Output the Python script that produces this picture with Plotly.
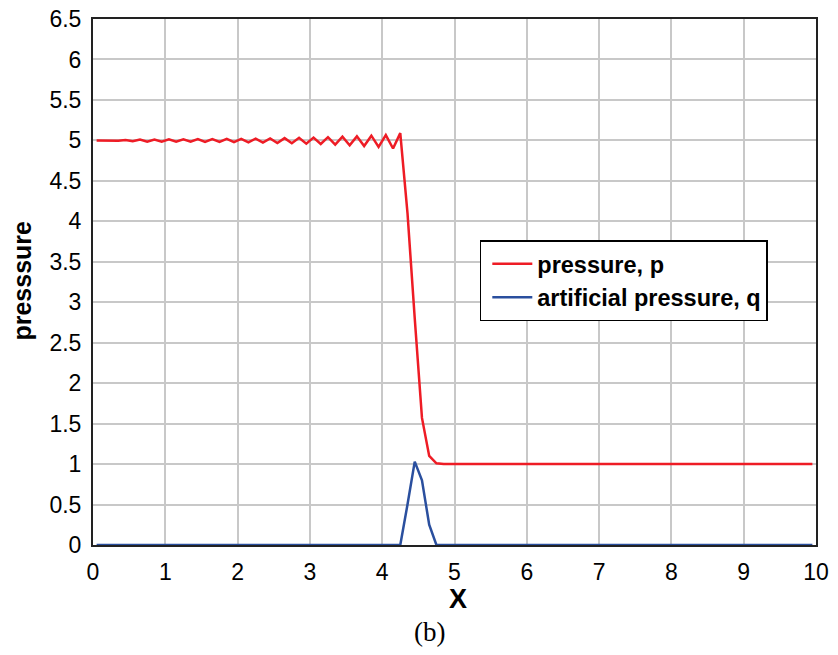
import plotly.graph_objects as go

# cell-centre positions
x_vals = [round(0.05 + 0.1 * i, 2) for i in range(100)]

p_head = [
    5.000, 5.000, 5.000, 4.995, 5.005, 4.990, 5.010, 4.985, 5.010, 4.985,
    5.012, 4.985, 5.012, 4.983, 5.015, 4.982, 5.015, 4.980, 5.018, 4.978,
    5.020, 4.975, 5.022, 4.972, 5.025, 4.968, 5.028, 4.965, 5.032, 4.960,
    5.035, 4.955, 5.040, 4.948, 5.045, 4.940, 5.050, 4.930, 5.058, 4.920,
    5.065, 4.900, 5.090, 4.100, 2.800, 1.570, 1.100, 1.010,
]
p_tail = [
    1.0, 1.0, 1.0, 1.0, 1.0, 1.0, 1.0, 1.0, 1.0, 1.0, 1.0, 1.0, 1.0,
    1.0, 1.0, 1.0, 1.0, 1.0, 1.0, 1.0, 1.0, 1.0, 1.0, 1.0, 1.0, 1.0,
    1.0, 1.0, 1.0, 1.0, 1.0, 1.0, 1.0, 1.0, 1.0, 1.0, 1.0, 1.0, 1.0,
    1.0, 1.0, 1.0, 1.0, 1.0, 1.0, 1.0, 1.0, 1.0, 1.0, 1.0, 1.0, 1.0,
]
pressure = p_head + p_tail

q_head = [0.0] * 43
q_peak = [0.50, 1.03, 0.80, 0.25, 0.0]
q_tail = [0.0] * 52
artificial = q_head + q_peak + q_tail

x_ticks = [0, 1, 2, 3, 4, 5, 6, 7, 8, 9, 10]
y_ticks = [0, 0.5, 1, 1.5, 2, 2.5, 3, 3.5, 4, 4.5, 5, 5.5, 6, 6.5]
y_tick_text = ["0", "0.5", "1", "1.5", "2", "2.5", "3", "3.5", "4", "4.5", "5", "5.5", "6", "6.5"]

fig = go.Figure()
fig.add_trace(go.Scatter(
    x=x_vals, y=pressure, mode="lines", name="pressure, p",
    line=dict(color="#ee1c25", width=2.5),
))
fig.add_trace(go.Scatter(
    x=x_vals, y=artificial, mode="lines", name="artificial pressure, q",
    line=dict(color="#2a4f9e", width=2.5),
))

font_family = "Liberation Sans, Arial, sans-serif"

fig.update_layout(
    width=822, height=639,
    margin=dict(l=85, r=14, t=11, b=102, autoexpand=False),
    paper_bgcolor="white", plot_bgcolor="white",
    font=dict(family=font_family, color="black", size=23),
    showlegend=True,
    legend=dict(
        x=0.535, y=0.579, xanchor="left", yanchor="top",
        bgcolor="white", bordercolor="black", borderwidth=1.5,
        font=dict(family=font_family, size=23.5, color="black", weight="bold"),
        tracegroupgap=0, itemwidth=40, indentation=6,
    ),
    annotations=[
        dict(
            text="(b)", x=0.466, y=-0.165, xref="paper", yref="paper",
            xanchor="center", yanchor="middle", showarrow=False,
            font=dict(family="Liberation Serif, Times New Roman, serif", size=27, color="black"),
        ),
        dict(
            text="<b>X</b>", x=0.505, y=-0.103, xref="paper", yref="paper",
            xanchor="center", yanchor="middle", showarrow=False,
            font=dict(family=font_family, size=27, color="black"),
        ),
        dict(
            text="<b>presssure</b>", x=-0.098, y=0.503, xref="paper", yref="paper",
            xanchor="center", yanchor="middle", showarrow=False, textangle=-90,
            font=dict(family=font_family, size=25, color="black"),
        ),
    ],
)

fig.update_xaxes(
    range=[0, 10], tickvals=x_ticks, ticktext=[str(v) for v in x_ticks],
    showgrid=True, gridcolor="#c8c8c8", gridwidth=2,
    showline=True, linecolor="#222222", linewidth=2, mirror=True,
    ticks="", zeroline=False, ticklabelstandoff=5, ticklabeloverflow="allow",
    automargin=False,
    tickfont=dict(size=23, family=font_family),
)
fig.update_yaxes(
    range=[0, 6.5], tickvals=y_ticks, ticktext=y_tick_text,
    showgrid=True, gridcolor="#c8c8c8", gridwidth=2,
    showline=True, linecolor="#222222", linewidth=2, mirror=True,
    ticks="", zeroline=False, ticklabelstandoff=5, ticklabeloverflow="allow",
    automargin=False,
    tickfont=dict(size=23, family=font_family),
)

fig.write_html("out.html")
